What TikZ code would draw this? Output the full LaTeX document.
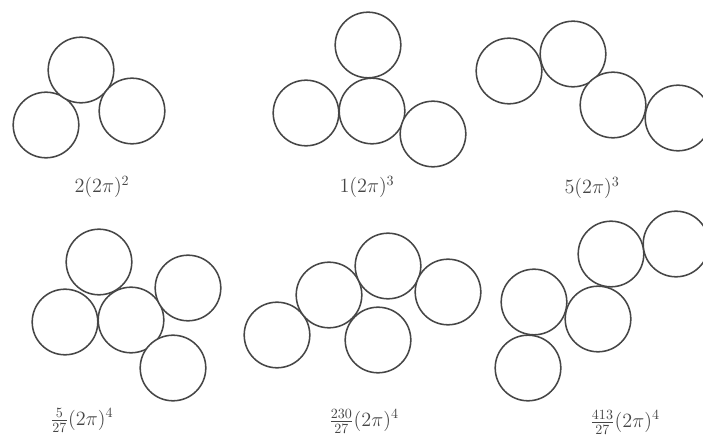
\documentclass[tikz,border=0pt]{standalone}
\usepackage{amsmath}
\usetikzlibrary{positioning}
\definecolor{rimgray}{RGB}{70,70,70}

\begin{document}
\begin{tikzpicture}[
        x={(0.025cm,0)}, y={(0,-0.025cm)},
        ball/.style={circle, draw=rimgray, fill=white, line width=1.1pt, minimum size=1.64cm, inner sep=0pt},
        count/.style={font=\fontsize{14}{16}\selectfont, text=rimgray, inner sep=0pt},
    ]
    \useasboundingbox (0,0) rectangle (703,438);
    \clip (0,0) rectangle (703,438);

    % ===== Top row =====
    \node[ball] (A1) at (46,125) {};
    \node[ball] (A2) at (81,70) {};
    \node[ball] (A3) at (132,111) {};
    \node[count] (A_LABEL) at (102,187) {$2(2\pi)^2$};

    \node[ball] (B1) at (368,45) {};
    \node[ball] (B2) at (306,113) {};
    \node[ball] (B3) at (372,111) {};
    \node[ball] (B4) at (433,134) {};
    \node[count] (B_LABEL) at (367,187) {$1(2\pi)^3$};

    \node[ball] (C1) at (509,71) {};
    \node[ball] (C2) at (573,54) {};
    \node[ball] (C3) at (613,105) {};
    \node[ball] (C4) at (678,118) {};
    \node[count] (C_LABEL) at (592,188) {$5(2\pi)^3$};

    % ===== Bottom row =====
    \node[ball] (D1) at (99,262) {};
    \node[ball] (D2) at (65,322) {};
    \node[ball] (D3) at (131,320) {};
    \node[ball] (D4) at (188,288) {};
    \node[ball] (D5) at (173,368) {};
    \node[count] (D_LABEL) at (82,420) {$\tfrac{5}{27}(2\pi)^4$};

    \node[ball] (E1) at (277,335) {};
    \node[ball] (E2) at (329,295) {};
    \node[ball] (E3) at (388,266) {};
    \node[ball] (E4) at (448,292) {};
    \node[ball] (E5) at (378,340) {};
    \node[count] (E_LABEL) at (364,421) {$\tfrac{230}{27}(2\pi)^4$};

    \node[ball] (F1) at (534,302) {};
    \node[ball] (F2) at (528,368) {};
    \node[ball] (F3) at (598,319) {};
    \node[ball] (F4) at (611,254) {};
    \node[ball] (F5) at (676,244) {};
    \node[count] (F_LABEL) at (625,422) {$\tfrac{413}{27}(2\pi)^4$};

\end{tikzpicture}
\end{document}
